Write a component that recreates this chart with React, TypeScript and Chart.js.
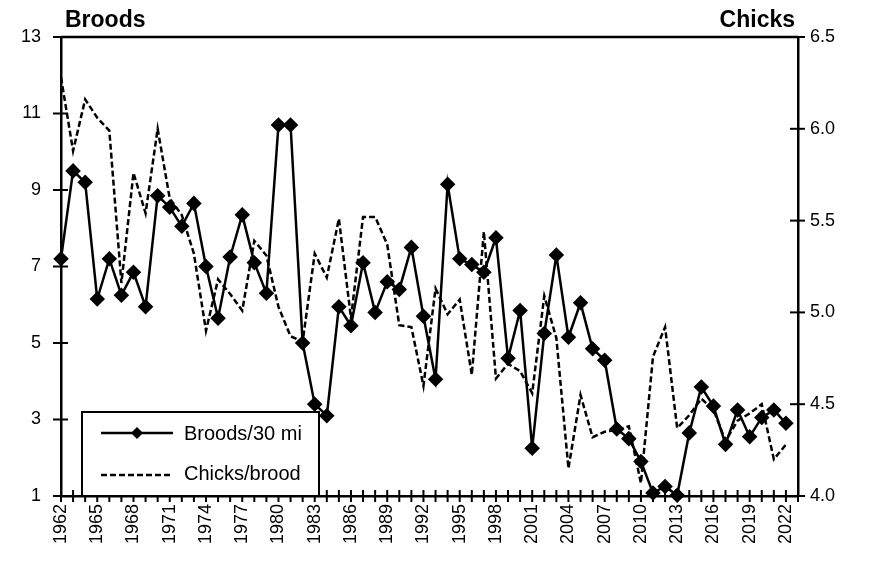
import React, { useEffect, useRef } from "react";
import { Chart, registerables } from "chart.js";

Chart.register(...registerables);

const years = [
  1962, 1963, 1964, 1965, 1966, 1967, 1968, 1969, 1970, 1971, 1972, 1973, 1974, 1975, 1976, 1977,
  1978, 1979, 1980, 1981, 1982, 1983, 1984, 1985, 1986, 1987, 1988, 1989, 1990, 1991, 1992, 1993,
  1994, 1995, 1996, 1997, 1998, 1999, 2000, 2001, 2002, 2003, 2004, 2005, 2006, 2007, 2008, 2009,
  2010, 2011, 2012, 2013, 2014, 2015, 2016, 2017, 2018, 2019, 2020, 2021, 2022,
];

const broods = [
  7.2, 9.5, 9.2, 6.15, 7.2, 6.25, 6.85, 5.95, 8.85, 8.55, 8.05, 8.65, 7.0, 5.65, 7.25, 8.35,
  7.1, 6.3, 10.7, 10.7, 5.0, 3.4, 3.1, 5.95, 5.45, 7.1, 5.8, 6.6, 6.4, 7.5, 5.7, 4.05,
  9.15, 7.2, 7.05, 6.85, 7.75, 4.6, 5.85, 2.25, 5.25, 7.3, 5.15, 6.05, 4.85, 4.55, 2.75, 2.5,
  1.9, 1.08, 1.25, 1.02, 2.65, 3.85, 3.35, 2.35, 3.25, 2.55, 3.05, 3.25, 2.9,
];

const chicks = [
  6.28, 5.88, 6.16, 6.06, 5.99, 5.16, 5.76, 5.54, 6.0, 5.62, 5.53, 5.32, 4.9, 5.18, 5.1, 5.01,
  5.39, 5.31, 5.03, 4.87, 4.84, 5.32, 5.19, 5.51, 4.97, 5.52, 5.52, 5.37, 4.93, 4.92, 4.6, 5.13,
  4.99, 5.07, 4.66, 5.44, 4.64, 4.72, 4.68, 4.56, 5.09, 4.86, 4.15, 4.55, 4.32, 4.35, 4.36, 4.38,
  4.07, 4.76, 4.92, 4.37, 4.44, 4.53, 4.47, 4.3, 4.41, 4.45, 4.5, 4.2, 4.28,
];

const seriesLabels = ["Broods/30 mi", "Chicks/brood"];
const leftTitle = "Broods";
const rightTitle = "Chicks";

const FONT = "'Liberation Sans', Arial, sans-serif";

const decorPlugin = {
  id: "decor",
  afterDraw(chart: any) {
    const { ctx, chartArea } = chart;
    const { left, right, top, bottom } = chartArea;
    ctx.save();
    ctx.strokeStyle = "#000";
    ctx.fillStyle = "#000";
    // top border
    ctx.lineWidth = 2.5;
    ctx.beginPath();
    ctx.moveTo(left, top);
    ctx.lineTo(right, top);
    ctx.stroke();
    // crossing tick marks
    ctx.lineWidth = 2;
    const yS = chart.scales.y;
    yS.ticks.forEach((t: any) => {
      const p = yS.getPixelForValue(t.value);
      ctx.beginPath();
      ctx.moveTo(left - 8, p);
      ctx.lineTo(left + 7, p);
      ctx.stroke();
    });
    const y1S = chart.scales.y1;
    y1S.ticks.forEach((t: any) => {
      const p = y1S.getPixelForValue(t.value);
      ctx.beginPath();
      ctx.moveTo(right - 8, p);
      ctx.lineTo(right + 7, p);
      ctx.stroke();
    });
    const xS = chart.scales.x;
    xS.ticks.forEach((t: any) => {
      const p = xS.getPixelForValue(t.value);
      ctx.beginPath();
      ctx.moveTo(p, bottom - 6);
      ctx.lineTo(p, bottom + 6);
      ctx.stroke();
    });
    // axis titles
    ctx.font = `bold 23px ${FONT}`;
    ctx.textBaseline = "alphabetic";
    ctx.textAlign = "left";
    ctx.fillText(leftTitle, left + 4, top - 10);
    ctx.textAlign = "right";
    ctx.fillText(rightTitle, right - 3, top - 10);
    // legend
    const bx = left + 21;
    const by = bottom - 84;
    const bw = 237;
    ctx.fillStyle = "#fff";
    ctx.fillRect(bx, by, bw, bottom - by);
    ctx.fillStyle = "#000";
    ctx.lineWidth = 2;
    ctx.strokeRect(bx, by, bw, bottom - by);
    const lx1 = bx + 19;
    const lx2 = bx + 91;
    const r1 = by + 21;
    const r2 = by + 63;
    ctx.lineWidth = 2.5;
    ctx.beginPath();
    ctx.moveTo(lx1, r1);
    ctx.lineTo(lx2, r1);
    ctx.stroke();
    const mx = (lx1 + lx2) / 2;
    ctx.beginPath();
    ctx.moveTo(mx, r1 - 6);
    ctx.lineTo(mx + 6, r1);
    ctx.lineTo(mx, r1 + 6);
    ctx.lineTo(mx - 6, r1);
    ctx.closePath();
    ctx.fill();
    ctx.setLineDash([6, 3]);
    ctx.beginPath();
    ctx.moveTo(lx1, r2);
    ctx.lineTo(lx2, r2);
    ctx.stroke();
    ctx.setLineDash([]);
    ctx.font = `20px ${FONT}`;
    ctx.textAlign = "left";
    ctx.textBaseline = "middle";
    ctx.fillText(seriesLabels[0], bx + 102, r1 + 1);
    ctx.fillText(seriesLabels[1], bx + 102, r2 - 1);
    ctx.restore();
  },
};

export default function App() {
  const ref = useRef<HTMLCanvasElement | null>(null);
  useEffect(() => {
    if (!ref.current) return;
    const chart = new Chart(ref.current, {
      type: "line",
      data: {
        datasets: [
          {
            label: seriesLabels[0],
            data: years.map((yr, i) => ({ x: yr, y: broods[i] })),
            yAxisID: "y",
            borderColor: "#000",
            backgroundColor: "#000",
            borderWidth: 2.5,
            pointStyle: "rectRot",
            pointRadius: 6,
            pointBackgroundColor: "#000",
            pointBorderColor: "#000",
            tension: 0,
            clip: false,
          },
          {
            label: seriesLabels[1],
            data: years.map((yr, i) => ({ x: yr, y: chicks[i] })),
            yAxisID: "y1",
            borderColor: "#000",
            borderWidth: 2.5,
            borderDash: [6, 3],
            pointRadius: 0,
            tension: 0,
            clip: false,
          },
        ],
      },
      options: {
        responsive: false,
        animation: false,
        layout: { padding: { top: 37, left: 0, right: 0, bottom: 0 } },
        plugins: { legend: { display: false }, tooltip: { enabled: false } },
        scales: {
          x: {
            type: "linear",
            min: 1962,
            max: 2023,
            afterFit: (s: any) => {
              s.height = 68;
            },
            grid: { display: false, drawTicks: false },
            border: { display: true, color: "#000", width: 2.5 },
            ticks: {
              stepSize: 1,
              autoSkip: false,
              minRotation: 90,
              maxRotation: 90,
              padding: 8,
              color: "#000",
              font: { size: 18, family: FONT },
              callback: (v: any) => {
                const n = Number(v);
                if (n > 2022) return "";
                return (n - 1962) % 3 === 0 ? String(n) : "";
              },
            },
          },
          y: {
            position: "left",
            min: 1,
            max: 13,
            afterFit: (s: any) => {
              s.width = 61;
            },
            grid: { display: false, drawTicks: false },
            border: { display: true, color: "#000", width: 2.5 },
            ticks: {
              stepSize: 2,
              padding: 20,
              color: "#000",
              font: { size: 18, family: FONT },
            },
          },
          y1: {
            position: "right",
            min: 4,
            max: 6.5,
            afterFit: (s: any) => {
              s.width = 75;
            },
            grid: { display: false, drawTicks: false },
            border: { display: true, color: "#000", width: 2.5 },
            ticks: {
              stepSize: 0.5,
              padding: 12,
              color: "#000",
              font: { size: 18, family: FONT },
              callback: (v: any) => Number(v).toFixed(1),
            },
          },
        },
      },
      plugins: [decorPlugin],
    });
    return () => chart.destroy();
  }, []);
  return (
    <div style={{ position: "absolute", left: 0, top: 0, width: 873, height: 564, background: "#fff" }}>
      <canvas ref={ref} width={873} height={564} />
    </div>
  );
}
